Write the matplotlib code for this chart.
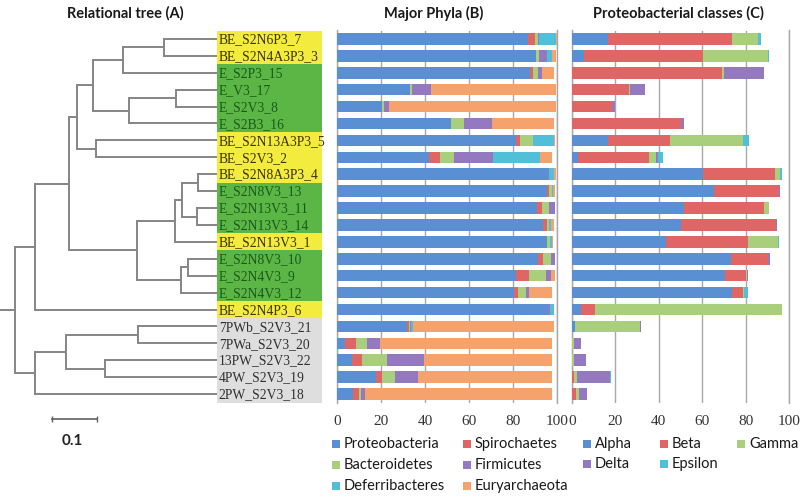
import matplotlib
matplotlib.use('Agg')
import matplotlib.pyplot as plt
from matplotlib.patches import Rectangle

# sample names, top to bottom
samples = ['BE_S2N6P3_7', 'BE_S2N4A3P3_3', 'E_S2P3_15', 'E_V3_17', 'E_S2V3_8',
           'E_S2B3_16', 'BE_S2N13A3P3_5', 'BE_S2V3_2', 'BE_S2N8A3P3_4',
           'E_S2N8V3_13', 'E_S2N13V3_11', 'E_S2N13V3_14', 'BE_S2N13V3_1',
           'E_S2N8V3_10', 'E_S2N4V3_9', 'E_S2N4V3_12', 'BE_S2N4P3_6',
           '7PWb_S2V3_21', '7PWa_S2V3_20', '13PW_S2V3_22', '4PW_S2V3_19',
           '2PW_S2V3_18']

# dendrogram: (height, [children]); leaves are sample indices
tree = (0.449, [
    (0.404, [
        (0.329, [
            (0.311, [
                (0.276, [
                    (0.209, [(0.118, [0, 1]), 2]),
                    (0.196, [(0.091, [3, 4]), 5]),
                ]),
                (0.269, [6, 7]),
            ]),
            (0.178, [
                (0.093, [(0.078, [(0.042, [8, 9]), (0.044, [10, 11])]), 12]),
                (0.080, [(0.064, [13, 14]), 15]),
            ]),
        ]),
        16,
    ]),
    (0.404, [
        (0.336, [(0.176, [17, 18]), (0.249, [19, 20])]),
        21,
    ]),
])

# Major phyla (%)
phyla = ['Proteobacteria', 'Spirochaetes', 'Bacteroidetes', 'Firmicutes',
         'Deferribacteres', 'Euryarchaeota']
proteobacteria = [87, 90.3, 87.7, 33, 20.3, 51.7, 81.4, 41.8, 96, 95.6, 90.8,
                  93.8, 95.6, 91.5, 81.2, 80.6, 96, 31.7, 3.6, 6.7, 17.6, 7.4]
spirochaetes = [3, 0.3, 1.5, 0, 0, 0.3, 1.8, 5, 0, 0.7, 2.5,
                1.8, 0, 2.3, 6, 1.8, 0, 0.8, 5, 4.5, 3, 2.7]
bacteroidetes = [1.5, 1, 2.3, 1, 1, 5.5, 5.8, 6.5, 0, 1.2, 3.1,
                 0.9, 1.2, 3.5, 8, 3.5, 0, 0.5, 5.2, 11.4, 5.8, 0.8]
firmicutes = [0.5, 4, 1.5, 8.5, 2.2, 13, 0.3, 17.7, 0.5, 0, 2.7,
              0, 0, 1.8, 2, 1.5, 1, 0.5, 5.7, 16.9, 10.6, 1.8]
deferribacteres = [7.5, 2, 0, 0, 0, 0, 9.3, 21.3, 2, 0.5, 0,
                   0.6, 1, 0, 0, 0, 1.6, 1, 0, 0, 0, 0]
euryarchaeota = [0.5, 2, 5.6, 57, 76, 28.3, 0.5, 5.6, 1, 1, 0,
                 1.5, 0.5, 0, 1.8, 10.5, 0, 64, 78, 58, 60.6, 85]
phyla_values = [proteobacteria, spirochaetes, bacteroidetes, firmicutes,
                deferribacteres, euryarchaeota]
phyla_colors = ['#5b8fd4', '#e06666', '#a9cf7c', '#9478c0', '#52bfd8', '#f6a26c']

# Proteobacterial classes (%)
classes = ['Alpha', 'Beta', 'Gamma', 'Delta', 'Epsilon']
alpha = [16.4, 5.7, 0, 0, 0, 0, 16.7, 2.9, 60.2, 65.4, 51.6,
         50.2, 43.3, 73.1, 70.5, 73.6, 4.1, 1.4, 0, 0, 0, 0]
beta = [57.2, 54.5, 69.3, 26.3, 18.6, 50.1, 28.5, 32.7, 33.3, 30, 36.9,
        43.8, 38, 17.4, 9.5, 5.3, 6.5, 0, 0, 0, 0.8, 1.8]
gamma = [12.3, 30, 0.7, 0.3, 0, 0, 33.4, 3.1, 2.3, 0, 2.3,
         0, 13.5, 0, 0.5, 0.5, 86, 29.9, 1, 1, 1.7, 1.6]
delta = [0, 0, 18.5, 6.9, 1.2, 1.5, 0, 1.1, 0, 0.3, 0,
         0.3, 0, 0.8, 0.5, 0, 0, 0.5, 3, 5.5, 15, 3.6]
epsilon = [1.2, 0.5, 0, 0, 0, 0, 3, 2, 1.2, 0, 0,
           0, 0.4, 0, 0, 1.5, 0.4, 0, 0.3, 0, 0.3, 0]
class_values = [alpha, beta, gamma, delta, epsilon]
class_colors = ['#5b8fd4', '#e06666', '#a9cf7c', '#9478c0', '#52bfd8']

ticks = [0, 20, 40, 60, 80, 100]

W, H = 800, 497
fig = plt.figure(figsize=(8, 4.97), dpi=100)


def px_axes(x0, x1, y0, y1):
    return fig.add_axes([x0 / W, 1 - y1 / H, (x1 - x0) / W, (y1 - y0) / H])


row_top, row_bot = 30.5, 402.5
n = len(samples)

# ---- tree panel ----
ax_t = px_axes(0, 330, row_top, row_bot)
ax_t.set_xlim(217 / 450, -113 / 450)
ax_t.set_ylim(n - 0.5, -0.5)
ax_t.axis('off')
tree_col = '#858585'


def draw(node):
    if isinstance(node, int):
        return 0.0, float(node)
    h, kids = node
    pts = [draw(k) for k in kids]
    for ch, cy in pts:
        ax_t.plot([ch, h], [cy, cy], color=tree_col, lw=1.4, solid_capstyle='butt')
    ys = [p[1] for p in pts]
    ax_t.plot([h, h], [min(ys), max(ys)], color=tree_col, lw=1.4)
    return h, sum(ys) / len(ys)


rh, ry = draw(tree)
ax_t.plot([rh, 217 / 450], [ry, ry], color=tree_col, lw=1.4, clip_on=False)

box_w = 105 / 450
for i, name in enumerate(samples):
    if name.startswith('BE'):
        fc, tc = '#f3ec3e', '#3b3400'
    elif name.startswith('E_'):
        fc, tc = '#5bb646', '#1b5a1b'
    else:
        fc, tc = '#dedede', '#303030'
    ax_t.add_patch(Rectangle((0, i - 0.5), -box_w, 1, facecolor=fc,
                             edgecolor='none', zorder=1, clip_on=False))
    ax_t.text(-0.004, i + 0.05, name, family='Liberation Serif', fontsize=9.8,
              color=tc, va='center', ha='left', zorder=2)

# scale bar
sb_y = (419 - 39) / 16.9
ax_t.plot([0.367, 0.267], [sb_y, sb_y], color='#606060', lw=1.2,
          marker='|', markersize=5, clip_on=False)
ax_t.text(0.322, (441 - 39) / 16.9, '0.1', ha='center', va='center',
          fontsize=11, fontweight='bold', family='Lato', color='#222222')


# ---- bar panels ----
def bar_panel(ax, values, colors):
    left = [0.0] * n
    for vals, col in zip(values, colors):
        ax.barh(range(n), vals, left=left, height=0.68, color=col,
                edgecolor='none', zorder=3)
        left = [a + b for a, b in zip(left, vals)]
    ax.set_xlim(0, 100)
    ax.set_ylim(n - 0.5, -0.5)
    ax.set_yticks([])
    ax.set_xticks(ticks)
    ax.set_xticklabels([str(t) for t in ticks], family='Liberation Serif',
                       fontsize=11, color='#333333')
    ax.tick_params(axis='x', length=0, pad=9)
    ax.xaxis.grid(True, color='#a8a8a8', lw=1.0)
    ax.set_axisbelow(True)
    for s in ['top', 'bottom']:
        ax.spines[s].set_visible(False)
    for s in ['left', 'right']:
        ax.spines[s].set_color('#a8a8a8')
        ax.spines[s].set_linewidth(1.0)


ax_b = px_axes(337, 557, row_top, row_bot)
bar_panel(ax_b, phyla_values, phyla_colors)
ax_c = px_axes(572, 789, row_top, row_bot)
bar_panel(ax_c, class_values, class_colors)

# titles
title_kw = dict(fontsize=10.5, fontweight='bold', family='Lato',
                color='#1a1a1a', ha='center', va='center')
fig.text(125 / W, 1 - 13 / H, 'Relational tree (A)', **title_kw)
fig.text(434 / W, 1 - 13 / H, 'Major Phyla (B)', **title_kw)
fig.text(678 / W, 1 - 13 / H, 'Proteobacterial classes (C)', **title_kw)


# legends
def legend_item(x, y, label, color):
    fig.patches.append(Rectangle(((x - 4) / W, 1 - (y + 4) / H), 8 / W, 8 / H,
                                 facecolor=color, edgecolor='none',
                                 transform=fig.transFigure, figure=fig))
    fig.text((x + 8) / W, 1 - y / H, label, fontsize=10.5, family='Lato',
             color='#1a1a1a', va='center', ha='left')


phyla_cols = [336, 467]
phyla_rows = [444, 465, 486]
for k, (lab, col) in enumerate(zip(phyla, phyla_colors)):
    legend_item(phyla_cols[k % 2], phyla_rows[k // 2], lab, col)

class_cols = [587, 664, 741]
class_rows = [444, 464]
for k, (lab, col) in enumerate(zip(classes, class_colors)):
    legend_item(class_cols[k % 3], class_rows[k // 3], lab, col)

fig.savefig('out.png', dpi=100)
